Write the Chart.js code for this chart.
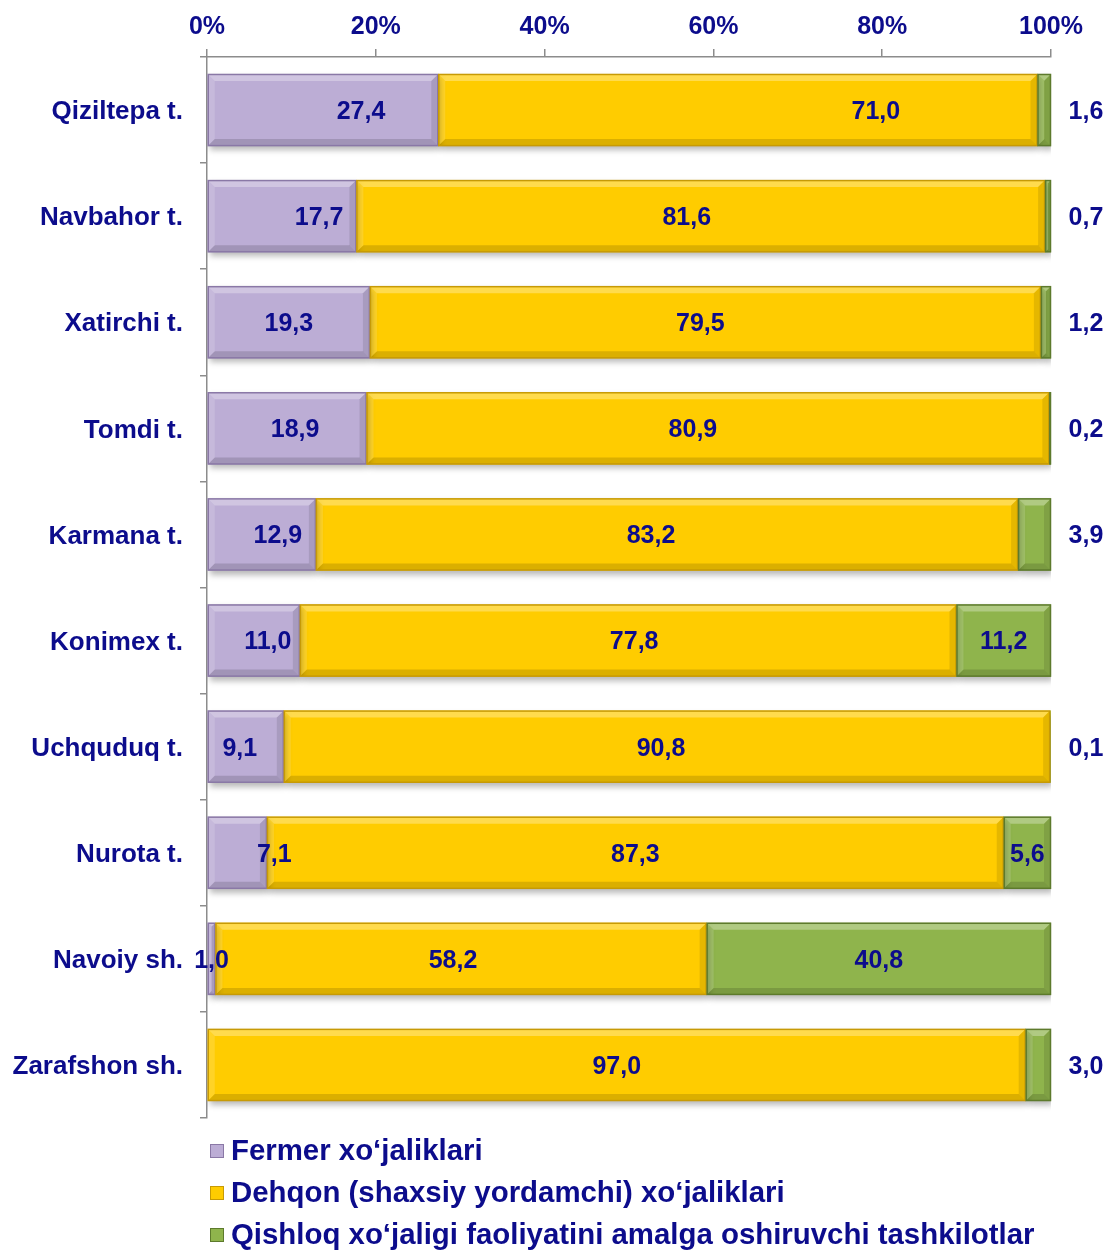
<!DOCTYPE html>
<html>
<head>
<meta charset="utf-8">
<script src="https://cdn.jsdelivr.net/npm/chart.js@4"></script>
<style>
html, body { margin: 0; padding: 0; background: #fff; }
#wrap { width: 1107px; height: 1251px; position: relative; }
</style>
</head>
<body>
<div id="wrap"><canvas id="myChart"></canvas></div>
<script>
// categories and values (percent)
var districts = ['Qiziltepa t.', 'Navbahor t.', 'Xatirchi t.', 'Tomdi t.', 'Karmana t.',
	'Konimex t.', 'Uchquduq t.', 'Nurota t.', 'Navoiy sh.', 'Zarafshon sh.'];
var fermer = [27.4, 17.7, 19.3, 18.9, 12.9, 11.0, 9.1, 7.1, 1.0, 0];
var dehqon = [71.0, 81.6, 79.5, 80.9, 83.2, 77.8, 90.8, 87.3, 58.2, 97.0];
var tashkilot = [1.6, 0.7, 1.2, 0.2, 3.9, 11.2, 0.1, 5.6, 40.8, 3.0];
var xTicks = [0, 20, 40, 60, 80, 100];
var seriesNames = ['Fermer xo\u2018jaliklari', 'Dehqon (shaxsiy yordamchi) xo\u2018jaliklari',
	'Qishloq xo\u2018jaligi faoliyatini amalga oshiruvchi tashkilotlar'];

// label nudges in pixels (the original labels are not all centred)
var fermerShift = [38, 37, 0, 8, 16, 14, -6, 37, 0, 0];
var dehqonShift = [138, -14, -5, -15, -16, 6, -6, 0, -8, 0];

var navy = '#0c0c8c';
var font = 'Liberation Sans, Arial, sans-serif';

var ctx = document.getElementById('myChart').getContext('2d');

// small bevel + shadow so the bars look like the office chart
var bevelPlugin = {
	id: 'bevel',
	beforeDatasetsDraw: function(chart) {
		var c = chart.ctx;
		c.save();
		c.shadowColor = 'rgba(0,0,0,0.28)';
		c.shadowBlur = 6;
		c.shadowOffsetX = 2;
		c.shadowOffsetY = 4;
	},
	afterDatasetsDraw: function(chart) {
		var c = chart.ctx;
		c.restore();
		chart.data.datasets.forEach(function(ds, i) {
			var meta = chart.getDatasetMeta(i);
			meta.data.forEach(function(bar) {
				var x0 = Math.min(bar.base, bar.x), x1 = Math.max(bar.base, bar.x);
				var y0 = bar.y - bar.height / 2, y1 = bar.y + bar.height / 2;
				var w = x1 - x0;
				if (w < 1) return;
				var b = Math.min(7, w / 2);
				c.save();
				// top light
				c.fillStyle = 'rgba(255,255,255,0.30)';
				c.beginPath();
				c.moveTo(x0, y0); c.lineTo(x1, y0); c.lineTo(x1 - b, y0 + b); c.lineTo(x0 + b, y0 + b);
				c.closePath(); c.fill();
				// left light
				c.fillStyle = 'rgba(255,255,255,0.15)';
				c.beginPath();
				c.moveTo(x0, y0); c.lineTo(x0 + b, y0 + b); c.lineTo(x0 + b, y1 - b); c.lineTo(x0, y1);
				c.closePath(); c.fill();
				// bottom dark
				c.fillStyle = 'rgba(0,0,0,0.14)';
				c.beginPath();
				c.moveTo(x0, y1); c.lineTo(x1, y1); c.lineTo(x1 - b, y1 - b); c.lineTo(x0 + b, y1 - b);
				c.closePath(); c.fill();
				// right dark
				c.fillStyle = 'rgba(0,0,0,0.10)';
				c.beginPath();
				c.moveTo(x1, y0); c.lineTo(x1 - b, y0 + b); c.lineTo(x1 - b, y1 - b); c.lineTo(x1, y1);
				c.closePath(); c.fill();
				c.strokeStyle = ds.borderColor;
				c.lineWidth = 1.5;
				c.strokeRect(x0 + 0.5, y0 + 0.5, w - 1, y1 - y0 - 1);
				c.restore();
			});
		});
	}
};

var labelPlugin = {
	id: 'valueLabels',
	afterDraw: function(chart) {
		var c = chart.ctx;
		var area = chart.chartArea;
		c.save();
		c.font = 'bold 25px ' + font;
		c.fillStyle = navy;
		c.textAlign = 'center';
		c.textBaseline = 'middle';
		chart.data.datasets.forEach(function(ds, i) {
			var meta = chart.getDatasetMeta(i);
			meta.data.forEach(function(bar, j) {
				var v = ds.data[j];
				if (!v) return;
				var txt = v.toFixed(1).replace('.', ',');
				var cx = (bar.base + bar.x) / 2;
				if (i == 0) cx += fermerShift[j];
				if (i == 1) cx += dehqonShift[j];
				if (i == 2 && v < 5) cx = area.right + 35;
				c.fillText(txt, cx, bar.y + 2);
			});
		});
		// legend
		c.textAlign = 'left';
		c.font = 'bold 29.4px ' + font;
		chart.data.datasets.forEach(function(ds, i) {
			var ly = 1151 + i * 42;
			var bx = area.left + 3;
			c.fillStyle = ds.backgroundColor;
			c.fillRect(bx, ly - 7, 14, 14);
			c.strokeStyle = ds.borderColor;
			c.lineWidth = 1;
			c.strokeRect(bx + 0.5, ly - 6.5, 13, 13);
			c.fillStyle = navy;
			c.fillText(seriesNames[i], bx + 21, ly + 1);
		});
		c.restore();
	}
};

var data = {
	labels: districts,
	datasets: [{
		label: seriesNames[0],
		data: fermer,
		backgroundColor: '#bcadd5',
		borderColor: '#8a78a6'
	}, {
		label: seriesNames[1],
		data: dehqon,
		backgroundColor: '#ffcc00',
		borderColor: '#c79a05'
	}, {
		label: seriesNames[2],
		data: tashkilot,
		backgroundColor: '#8fb44c',
		borderColor: '#5d7a2c'
	}]
};

var myChart = new Chart(ctx, {
	type: 'bar',
	data: data,
	plugins: [bevelPlugin, labelPlugin],
	options: {
		indexAxis: 'y',
		responsive: true,
		maintainAspectRatio: false,
		animation: false,
		layout: { padding: { left: 0, right: 56, top: 0, bottom: 133 } },
		datasets: {
			bar: {
				categoryPercentage: 1,
				barPercentage: 0.68,
				borderWidth: 0
			}
		},
		plugins: {
			legend: { display: false },
			tooltip: { enabled: false }
		},
		scales: {
			x: {
				position: 'top',
				stacked: true,
				min: 0,
				max: 100,
				afterBuildTicks: function(scale) {
					scale.ticks = xTicks.map(function(v) { return { value: v }; });
				},
				afterFit: function(scale) { scale.height = 57; },
				grid: { drawOnChartArea: false, tickLength: 8, color: '#8c8c8c', lineWidth: 1.5 },
				border: { color: '#8c8c8c', width: 1.5 },
				ticks: {
					padding: 7,
					color: navy,
					font: { family: font, size: 25, weight: 'bold' },
					callback: function(v) { return v + '%'; }
				}
			},
			y: {
				stacked: true,
				afterFit: function(scale) { scale.width = 207; },
				grid: { drawOnChartArea: false, offset: true, tickLength: 7, color: '#8c8c8c', lineWidth: 1.5 },
				border: { color: '#8c8c8c', width: 1.5 },
				ticks: {
					padding: 17,
					labelOffset: 2,
					color: navy,
					font: { family: font, size: 26, weight: 'bold' }
				}
			}
		}
	}
});
</script>
</body>
</html>
